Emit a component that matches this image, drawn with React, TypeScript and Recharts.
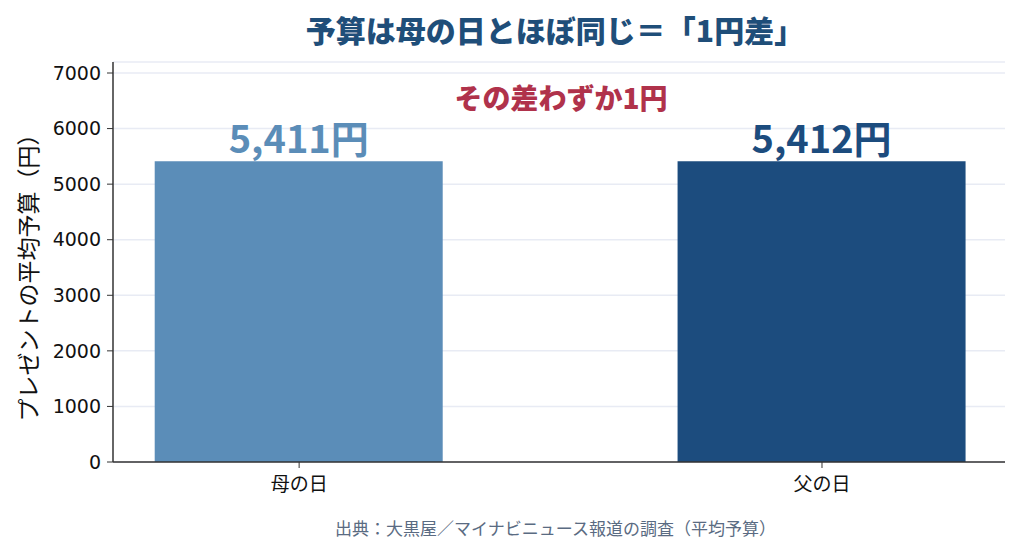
import React from 'react';
import { BarChart, Bar, XAxis, YAxis, CartesianGrid, Cell, LabelList } from 'recharts';

const categories = ['母の日', '父の日'];
const budgets = [5411, 5412];
const yTicks = [0, 1000, 2000, 3000, 4000, 5000, 6000, 7000];
const barLabels = ['5,411円', '5,412円'];

const barColors = ['#5b8db8', '#1c4c7e'];

const data = categories.map((c, i) => ({ idx: i, name: c, value: budgets[i], label: barLabels[i] }));

const NUMFONT = '"DejaVu Sans", "Noto Sans CJK JP", sans-serif';
const JFONT = '"Noto Sans CJK JP", sans-serif';

const renderLabel = (props: any) => {
  const { x, y, width, index } = props;
  return (
    <text
      x={x + width / 2}
      y={y - 8}
      textAnchor="middle"
      fill={barColors[index]}
      fontSize={38}
      fontWeight={700}
      fontFamily={JFONT}
    >
      {barLabels[index]}
    </text>
  );
};

export default function App() {
  return (
    <div style={{ position: 'relative', width: 1020, height: 553, background: '#fff', fontFamily: JFONT }}>
      <style>{`body{margin:0}`}</style>
      <div style={{ position: 'absolute', left: 0, width: 1110, top: 9, textAlign: 'center', fontSize: 30, fontWeight: 900, color: '#1f4e79', lineHeight: '40px' }}>
        予算は母の日とほぼ同じ＝「1円差」
      </div>
      <BarChart width={1020} height={553} data={data} margin={{ top: 62, right: 15, bottom: 61, left: 53 }}>
        <CartesianGrid horizontal={true} vertical={false} stroke="#e8ebf4" strokeWidth={1.5} />
        <XAxis
          type="number"
          dataKey="idx"
          height={30}
          domain={[-0.356, 1.35]}
          ticks={[0, 1]}
          tickFormatter={(v: number) => categories[v]}
          tickLine={{ stroke: '#333' }}
          axisLine={{ stroke: '#333', strokeWidth: 1.5 }}
          tickSize={6}
          tickMargin={10}
          tick={{ fill: '#111', fontSize: 19, fontFamily: JFONT }}
          allowDataOverflow
        />
        <YAxis
          width={60}
          domain={[0, 7198]}
          ticks={yTicks}
          tickLine={{ stroke: '#333' }}
          axisLine={{ stroke: '#333', strokeWidth: 1.5 }}
          tickSize={6}
          tickMargin={6}
          tick={{ fill: '#111', fontSize: 19, fontFamily: NUMFONT }}
          allowDataOverflow
        />
        <Bar dataKey="value" barSize={288} isAnimationActive={false}>
          {data.map((d, i) => (
            <Cell key={d.name} fill={barColors[i]} />
          ))}
          <LabelList dataKey="label" content={renderLabel} />
        </Bar>
        <text
          x={27}
          y={272}
          transform="rotate(-90 27 272)"
          textAnchor="middle"
          dominantBaseline="central"
          fontSize={23}
          fill="#111"
          fontFamily={JFONT}
        >
          プレゼントの平均予算（円）
        </text>
      </BarChart>
      <div style={{ position: 'absolute', left: 0, width: 1122, top: 79, textAlign: 'center', fontSize: 28, fontWeight: 900, color: '#b0324b', lineHeight: '36px' }}>
        その差わずか1円
      </div>
      <div style={{ position: 'absolute', left: 0, width: 1111, top: 517, textAlign: 'center', fontSize: 17, color: '#5a6b82', lineHeight: '22px' }}>
        出典：大黒屋／マイナビニュース報道の調査（平均予算）
      </div>
    </div>
  );
}
